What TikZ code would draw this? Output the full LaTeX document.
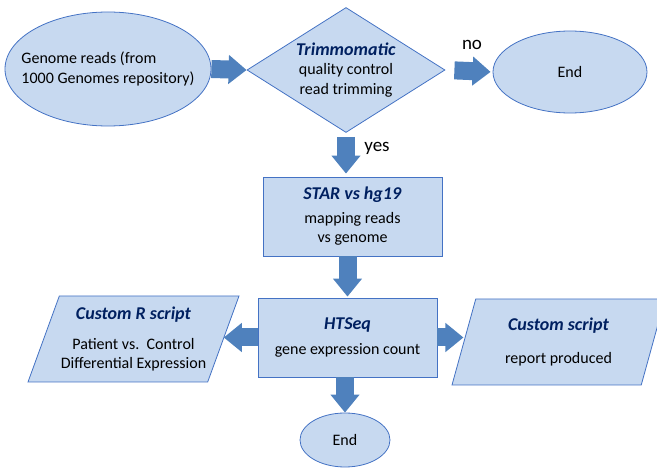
\documentclass[tikz,border=0pt]{standalone}
\usepackage{fontspec}
\setmainfont{Carlito}
\usetikzlibrary{shapes.geometric, arrows.meta}

\definecolor{boxfill}{RGB}{199,217,240}
\definecolor{boxline}{RGB}{68,114,196}
\definecolor{arrowblue}{RGB}{79,129,189}
\definecolor{titleblue}{RGB}{0,32,96}
\newcommand{\tooltitle}[1]{{\fontsize{18}{19.5}\selectfont\color{titleblue}\textbf{\textit{#1}}}}

\begin{document}
\begin{tikzpicture}[x=1pt, y=-1pt,
  every node/.style={font=\fontsize{16}{19.5}\selectfont},
  shapebase/.style={draw=boxline, fill=boxfill, line width=0.8pt, inner sep=0pt, align=center},
  oval/.style={shapebase, ellipse},
  decision/.style={shapebase, diamond, aspect=1.584},
  process/.style={shapebase, rectangle},
  datashape/.style={shapebase, trapezium, trapezium left angle=64, trapezium right angle=116, trapezium stretches body},
  fat/.style={draw=arrowblue, line width=18pt, -{Triangle[length=18pt, width=28pt]}},
  answer/.style={font=\fontsize{19}{23}\selectfont}]
\useasboundingbox (0,0) rectangle (657,470);

% shapes of the pipeline
\node[oval, minimum width=206pt, minimum height=114pt, inner xsep=-15pt, align=left] (reads) at (108,69) {Genome reads (from\\1000 Genomes repository)};
\node[decision, minimum width=198pt, minimum height=125pt] (trim) at (346,70) {\tooltitle{Trimmomatic}\\quality control\\read trimming};
\node[oval, minimum width=154pt, minimum height=82pt] (endtop) at (570,72) {End};
\node[process, minimum width=179pt, minimum height=79pt] (star) at (352.5,216.5) {\tooltitle{STAR vs hg19}\\[4pt]mapping reads\\vs genome};
\node[process, minimum width=179pt, minimum height=79pt] (htseq) at (347.5,337.5) {\tooltitle{HTSeq}\\[6pt]gene expression count};
\node[datashape, minimum width=211pt, minimum height=86pt] (rscript) at (133.5,339) {\tooltitle{Custom R script}\\[10pt]Patient vs.\ \ Control\\Differential Expression};
\node[datashape, minimum width=213pt, minimum height=86pt] (script) at (558.5,342) {\tooltitle{Custom script}\\[14pt]report produced};
\node[oval, minimum width=90pt, minimum height=54pt] (endbottom) at (345,440) {End};

% block arrows
\draw[fat] (reads.east) -- (trim.west);
\draw[fat, shorten <=9pt, shorten >=2pt] (trim.east) -- (endtop.west);
\node[answer] (no) at (472,45) {no};
\draw[fat, shorten <=4pt, shorten >=3pt] (trim.south) -- (trim.south |- star.north);
\node[answer] (yes) at (377,148) {yes};
\draw[fat, shorten >=1pt] (htseq.north |- star.south) -- (htseq.north);
\draw[fat] (htseq.west) -- (htseq.west -| rscript.east);
\draw[fat] (htseq.east) -- (htseq.east -| script.west);
\draw[fat] (endbottom.north |- htseq.south) -- (endbottom.north);
\end{tikzpicture}
\end{document}
